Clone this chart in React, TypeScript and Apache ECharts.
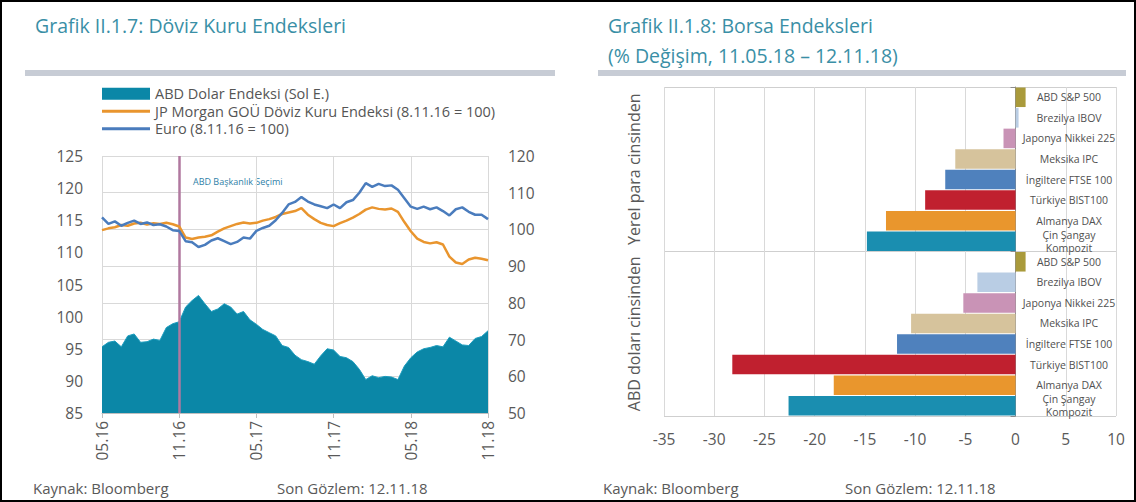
import { useEffect, useRef } from 'react';
import * as echarts from 'echarts';

const FONT = '"Open Sans", "Noto Sans", sans-serif';

// ---------- Left chart: Döviz Kuru Endeksleri ----------
const dates = [
  '01.05.16', '16.05.16', '01.06.16', '16.06.16', '01.07.16', '16.07.16', '01.08.16', '16.08.16', '01.09.16', '16.09.16', '01.10.16', '16.10.16',
  '01.11.16', '16.11.16', '01.12.16', '16.12.16', '01.01.17', '16.01.17', '01.02.17', '16.02.17', '01.03.17', '16.03.17', '01.04.17', '16.04.17',
  '01.05.17', '16.05.17', '01.06.17', '16.06.17', '01.07.17', '16.07.17', '01.08.17', '16.08.17', '01.09.17', '16.09.17', '01.10.17', '16.10.17',
  '01.11.17', '16.11.17', '01.12.17', '16.12.17', '01.01.18', '16.01.18', '01.02.18', '16.02.18', '01.03.18', '16.03.18', '01.04.18', '16.04.18',
  '01.05.18', '16.05.18', '01.06.18', '16.06.18', '01.07.18', '16.07.18', '01.08.18', '16.08.18', '01.09.18', '16.09.18', '01.10.18', '16.10.18',
  '01.11.18',
];

const usdIndex = [
  95.3, 96.0, 96.2, 95.3, 97.0, 97.3, 96.0, 96.1, 96.5, 96.3, 98.3, 98.9,
  99.2, 101.5, 102.5, 103.3, 102.0, 100.8, 101.2, 102.0, 101.5, 100.4, 100.8, 99.5,
  98.8, 98.0, 97.5, 97.0, 95.5, 95.2, 94.0, 93.3, 93.0, 92.6, 93.9, 95.0,
  94.8, 93.8, 93.6, 93.0, 91.8, 90.2, 90.8, 90.5, 90.7, 90.6, 90.2, 92.3,
  93.6, 94.5, 95.0, 95.2, 95.5, 95.3, 96.8, 96.2, 95.6, 95.5, 96.6, 96.9,
  97.8,
];

const jpmEmIndex = [
  99.8, 100.3, 100.6, 101.2, 101.0, 101.6, 101.8, 101.3, 101.7, 101.5, 101.8, 101.4,
  100.8, 97.8, 97.4, 97.8, 98.0, 98.4, 99.4, 100.3, 100.9, 101.5, 101.9, 101.6,
  101.8, 102.4, 102.8, 103.4, 104.2, 104.6, 105.0, 105.8, 104.0, 102.8, 101.8, 101.2,
  100.9, 101.7, 102.4, 103.2, 104.2, 105.4, 106.0, 105.6, 105.4, 105.7, 104.8, 102.0,
  99.5, 97.5, 96.6, 96.2, 96.5, 95.9, 92.6, 91.0, 90.6, 91.8, 92.3, 92.0,
  91.6,
];

const euroIndex = [
  103.3, 101.5, 102.2, 101.0, 101.8, 102.4, 101.5, 101.9, 101.2, 101.4, 100.8, 99.8,
  99.6, 96.8, 96.5, 95.2, 95.8, 97.0, 97.6, 96.8, 96.0, 96.6, 97.8, 97.5,
  99.6, 100.4, 101.0, 102.5, 104.5, 106.8, 107.5, 108.8, 107.6, 106.8, 106.3, 105.8,
  106.8, 105.8, 107.4, 108.0, 110.0, 112.6, 111.6, 112.4, 111.8, 112.0, 110.8, 108.5,
  106.2, 105.6, 106.2, 105.5, 106.0, 105.0, 103.8, 105.5, 106.0, 104.8, 104.0, 104.0,
  102.8,
];

const usdName = 'ABD Dolar Endeksi (Sol E.)';
const jpmName = 'JP Morgan GOÜ Döviz Kuru Endeksi (8.11.16 = 100)';
const euroName = 'Euro (8.11.16 = 100)';
const electionDate = '01.11.16';
const electionNote = 'ABD Başkanlık Seçimi';

const leftAxisRange = [85, 125, 5];
const rightAxisRange = [50, 120, 10];

// ---------- Right chart: Borsa Endeksleri ----------
const stockIndices = [
  'ABD S&P 500', 'Brezilya IBOV', 'Japonya Nikkei 225', 'Meksika IPC',
  'İngiltere FTSE 100', 'Türkiye BIST100', 'Almanya DAX', 'Çin Şangay Kompozit',
];
const currencyGroups = ['Yerel para cinsinden', 'ABD doları cinsinden'];
const localCurrencyChange = [1.0, 0.3, -1.2, -6.0, -7.0, -9.0, -12.9, -14.8];
const usdChange = [1.0, -3.8, -5.2, -10.4, -11.8, -28.2, -18.1, -22.6];
const changeAxisRange = [-35, 10, 5];

const indexColors = ['#a99a3b', '#b9cde4', '#c993b6', '#d6c39c', '#4f81bd', '#c0202f', '#e9962d', '#1a8eb0'];

const TEAL = '#0b87a7';
const ORANGE = '#e9952e';
const BLUE = '#4a7cbd';
const GRID = '#d9d9d9';
const LABEL = '#595959';
const TITLE = '#3a8fa6';
const LINE_ICON = 'path://M0,0 L0,0 M0,4.5 L48,4.5 L48,7.5 L0,7.5 Z M48,12 L48,12';

export default function App() {
  const ref = useRef<HTMLDivElement>(null);

  useEffect(() => {
    if (!ref.current) return;
    const chart = echarts.init(ref.current, undefined, { renderer: 'svg' });

    const groupedCategories = currencyGroups.flatMap((g) => stockIndices.map((s) => g + '|' + s));
    const barData = [...localCurrencyChange, ...usdChange].map((v, i) => ({
      value: v,
      itemStyle: { color: indexColors[i % stockIndices.length] },
    }));

    const titleStyle = { fontFamily: FONT, fontSize: 19.5, fontWeight: 'normal', color: TITLE };

    const option: any = {
      animation: false,
      backgroundColor: '#ffffff',
      textStyle: { fontFamily: FONT },
      title: [
        { text: 'Grafik II.1.7: Döviz Kuru Endeksleri', left: 30, top: 10, textStyle: titleStyle },
        { text: 'Grafik II.1.8: Borsa Endeksleri', left: 603, top: 10, textStyle: titleStyle },
        { text: '(% Değişim, 11.05.18 – 12.11.18)', left: 603, top: 40, textStyle: titleStyle },
      ],
      legend: {
        left: 97, top: 80, orient: 'vertical',
        itemWidth: 48, itemHeight: 12, itemGap: 0,
        selectedMode: false,
        textStyle: { fontFamily: FONT, fontSize: 14.5, lineHeight: 17.5, color: '#555555' },
        data: [
          { name: usdName, icon: 'rect', itemStyle: { color: TEAL, borderWidth: 0 } },
          { name: jpmName, icon: LINE_ICON, itemStyle: { color: ORANGE, borderWidth: 0 } },
          { name: euroName, icon: LINE_ICON, itemStyle: { color: BLUE, borderWidth: 0 } },
        ],
      },
      grid: [
        { left: 102, top: 156, width: 386, height: 257, containLabel: false, outerBoundsMode: 'none' },
        { left: 664, top: 87, width: 452, height: 329, containLabel: false, outerBoundsMode: 'none' },
      ],
      xAxis: [
        {
          gridIndex: 0, type: 'category', data: dates, boundaryGap: false,
          axisLine: { lineStyle: { color: '#bfbfbf' } },
          axisTick: { show: true, interval: 11, length: 5, lineStyle: { color: '#bfbfbf' } },
          axisLabel: {
            interval: 11, rotate: 90, margin: 8, fontSize: 15.5, color: LABEL,
            formatter: (v: string) => v.slice(3),
          },
          splitLine: { show: true, interval: 11, lineStyle: { color: GRID } },
        },
        {
          gridIndex: 1, type: 'value',
          min: changeAxisRange[0], max: changeAxisRange[1], interval: changeAxisRange[2],
          axisLine: { show: false }, axisTick: { show: false },
          axisLabel: { fontSize: 15.5, color: LABEL, margin: 15 },
          splitLine: { show: true, lineStyle: { color: GRID } },
        },
      ],
      yAxis: [
        {
          gridIndex: 0, type: 'value', position: 'left',
          min: leftAxisRange[0], max: leftAxisRange[1], interval: leftAxisRange[2],
          axisLine: { show: false }, axisTick: { show: false },
          axisLabel: { fontSize: 15.5, color: LABEL, margin: 19 },
          splitLine: { show: false },
        },
        {
          gridIndex: 0, type: 'value', position: 'right',
          min: rightAxisRange[0], max: rightAxisRange[1], interval: rightAxisRange[2],
          axisLine: { show: false }, axisTick: { show: false },
          axisLabel: { fontSize: 15.5, color: LABEL, margin: 20 },
          splitLine: { show: true, lineStyle: { color: GRID } },
        },
        {
          gridIndex: 1, type: 'category', data: groupedCategories, inverse: true, position: 'right',
          axisLine: { show: true, onZero: true, lineStyle: { color: '#8c8c8c' } },
          axisTick: { show: true, inside: true, length: 5, interval: (i: number) => i % 8 === 0, lineStyle: { color: '#8c8c8c' } },
          axisLabel: {
            interval: 0, margin: -47, align: 'center', fontSize: 10.5, lineHeight: 13, color: '#505050',
            formatter: (v: string) => v.split('|')[1].replace('Çin Şangay Kompozit', 'Çin Şangay\nKompozit'),
          },
          splitLine: { show: true, interval: (i: number) => i % 8 === 0, lineStyle: { color: '#cfcfcf' } },
        },
        {
          gridIndex: 1, type: 'category', data: currencyGroups, inverse: true, position: 'left',
          axisLine: { show: false, onZero: false }, axisTick: { show: false },
          axisLabel: { interval: 0, rotate: 90, margin: 22, fontSize: 16, color: LABEL },
          splitLine: { show: false },
        },
      ],
      series: [
        {
          name: usdName, type: 'line', xAxisIndex: 0, yAxisIndex: 0, data: usdIndex,
          symbol: 'none', z: 2,
          lineStyle: { width: 1, color: '#1c9cbd' },
          itemStyle: { color: TEAL },
          areaStyle: { color: TEAL, opacity: 1 },
          markLine: {
            silent: true, symbol: 'none', z: 3,
            lineStyle: { color: '#b0789f', width: 2.5, type: 'solid' },
            label: { show: false },
            data: [{ xAxis: electionDate }],
          },
        },
        {
          name: jpmName, type: 'line', xAxisIndex: 0, yAxisIndex: 1, data: jpmEmIndex,
          symbol: 'none', z: 4,
          lineStyle: { width: 2.5, color: ORANGE }, itemStyle: { color: ORANGE },
        },
        {
          name: euroName, type: 'line', xAxisIndex: 0, yAxisIndex: 1, data: euroIndex,
          symbol: 'none', z: 5,
          lineStyle: { width: 2.5, color: BLUE }, itemStyle: { color: BLUE },
        },
        {
          name: 'Borsa Endeksleri', type: 'bar', xAxisIndex: 1, yAxisIndex: 2,
          data: barData, barCategoryGap: '5%',
        },
      ],
      graphic: [
        { type: 'rect', shape: { x: 1, y: 1, width: 1134, height: 500 }, style: { fill: 'none', stroke: '#000', lineWidth: 2 }, silent: true },
        { type: 'rect', shape: { x: 25, y: 70, width: 530, height: 6 }, style: { fill: '#c7ccd5' }, silent: true },
        { type: 'rect', shape: { x: 598, y: 70, width: 528, height: 6 }, style: { fill: '#c7ccd5' }, silent: true },
        { type: 'text', x: 193, y: 177, style: { text: electionNote, fontSize: 9, fill: '#2f7fa8', fontFamily: FONT } },
        { type: 'text', x: 33, y: 480, style: { text: 'Kaynak: Bloomberg', fontSize: 15, fill: LABEL, fontFamily: FONT } },
        { type: 'text', x: 277, y: 480, style: { text: 'Son Gözlem: 12.11.18', fontSize: 15, fill: LABEL, fontFamily: FONT } },
        { type: 'text', x: 603, y: 480, style: { text: 'Kaynak: Bloomberg', fontSize: 15, fill: LABEL, fontFamily: FONT } },
        { type: 'text', x: 845, y: 480, style: { text: 'Son Gözlem: 12.11.18', fontSize: 15, fill: LABEL, fontFamily: FONT } },
      ],
    };

    chart.setOption(option);
    return () => chart.dispose();
  }, []);

  return (
    <div
      ref={ref}
      style={{ position: 'absolute', left: 0, top: 0, width: 1136, height: 502, background: '#fff' }}
    />
  );
}
